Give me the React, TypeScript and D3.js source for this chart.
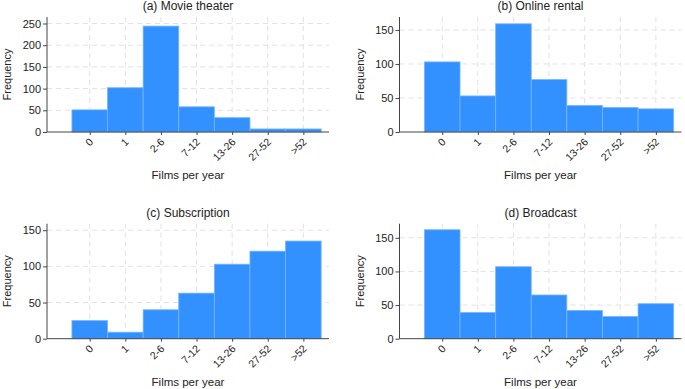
import React from "react";
import * as d3 from "d3";

// categories on the x axis
const categories = ["0", "1", "2-6", "7-12", "13-26", "27-52", ">52"];

// frequencies
const movieTheater = [51, 102, 244, 58, 33, 7, 7];
const onlineRental = [103, 53, 159, 77, 39, 36, 34];
const subscription = [25, 9, 40, 63, 103, 121, 135];
const broadcast = [162, 39, 107, 65, 42, 33, 52];

// y tick labels and axis tops per panel
const ticksA = [0, 50, 100, 150, 200, 250];
const ticksB = [0, 50, 100, 150];
const ticksC = [0, 50, 100, 150];
const ticksD = [0, 50, 100, 150];
const yMaxA = 265;
const yMaxB = 169;
const yMaxC = 159;
const yMaxD = 171;

const titles = ["(a) Movie theater", "(b) Online rental", "(c) Subscription", "(d) Broadcast"];

const FONT = "Liberation Sans, Arial, sans-serif";
const BAR = "#3391ff";
const AXIS = "#444";
const GRID = "#e2e2e2";

function Panel({ ox, oy, title, values, ticks, yMax }) {
  const ref = React.useRef(null);

  React.useEffect(() => {
    const g = d3.select(ref.current);
    g.selectAll("*").remove();

    const left = ox + 47;
    const right = ox + 329;
    const top = oy + 17;
    const bottom = oy + 132;

    const x = d3.scaleLinear().domain([-1.2, 6.72]).range([left, right]);
    const y = d3.scaleLinear().domain([0, yMax]).range([bottom, top]);
    const bw = x(1) - x(0);

    // grid
    g.selectAll(".hgrid")
      .data(ticks.filter((t) => t > 0))
      .enter()
      .append("line")
      .attr("x1", left)
      .attr("x2", right)
      .attr("y1", (d) => y(d))
      .attr("y2", (d) => y(d))
      .attr("stroke", GRID)
      .attr("stroke-dasharray", "5,4");
    g.selectAll(".vgrid")
      .data(categories)
      .enter()
      .append("line")
      .attr("x1", (d, i) => x(i))
      .attr("x2", (d, i) => x(i))
      .attr("y1", top)
      .attr("y2", bottom)
      .attr("stroke", GRID)
      .attr("stroke-dasharray", "5,4");

    // bars
    g.selectAll(".bar")
      .data(values)
      .enter()
      .append("rect")
      .attr("x", (d, i) => x(i) - bw / 2)
      .attr("width", bw)
      .attr("y", (d) => y(d))
      .attr("height", (d) => bottom - y(d))
      .attr("fill", BAR)
      .attr("stroke", "#74b6ff")
      .attr("stroke-width", 0.8);

    // y axis
    const ya = g
      .append("g")
      .attr("transform", `translate(${left},0)`)
      .call(d3.axisLeft(y).tickValues(ticks).tickSize(4).tickPadding(2));
    ya.select(".domain").attr("stroke", AXIS).attr("d", `M0,${top}V${bottom}`);
    ya.selectAll(".tick line").attr("stroke", AXIS);
    ya.selectAll("text")
      .attr("font-family", FONT)
      .attr("font-size", 11)
      .attr("fill", "#222");

    // x axis
    const xa = g
      .append("g")
      .attr("transform", `translate(0,${bottom})`)
      .call(
        d3
          .axisBottom(x)
          .tickValues(d3.range(categories.length))
          .tickFormat((i) => categories[i])
          .tickSize(3)
      );
    xa.select(".domain").attr("stroke", AXIS).attr("d", `M${left},0H${right}`);
    xa.selectAll(".tick line").attr("stroke", AXIS);
    xa.selectAll("text")
      .attr("font-family", FONT)
      .attr("font-size", 10.5)
      .attr("fill", "#222")
      .attr("text-anchor", "end")
      .attr("y", 0)
      .attr("dy", "0.35em")
      .attr("transform", "translate(1,8) rotate(-45)");

    // labels
    g.append("text")
      .attr("x", (left + right) / 2)
      .attr("y", oy + 10)
      .attr("text-anchor", "middle")
      .attr("font-family", FONT)
      .attr("font-size", 12)
      .attr("fill", "#222")
      .text(title);
    g.append("text")
      .attr("transform", `translate(${ox + 11},${(top + bottom) / 2}) rotate(-90)`)
      .attr("text-anchor", "middle")
      .attr("font-family", FONT)
      .attr("font-size", 11)
      .attr("fill", "#222")
      .text("Frequency");
    g.append("text")
      .attr("x", (left + right) / 2)
      .attr("y", oy + 179)
      .attr("text-anchor", "middle")
      .attr("font-family", FONT)
      .attr("font-size", 11.5)
      .attr("fill", "#222")
      .text("Films per year");
  });

  return <g ref={ref} />;
}

export default function App() {
  return (
    <svg
      width={685}
      height={389}
      style={{ position: "absolute", left: 0, top: 0, background: "#fff" }}
    >
      <Panel ox={0} oy={0} title={titles[0]} values={movieTheater} ticks={ticksA} yMax={yMaxA} />
      <Panel ox={352.5} oy={0} title={titles[1]} values={onlineRental} ticks={ticksB} yMax={yMaxB} />
      <Panel ox={0} oy={206.7} title={titles[2]} values={subscription} ticks={ticksC} yMax={yMaxC} />
      <Panel ox={352.5} oy={206.7} title={titles[3]} values={broadcast} ticks={ticksD} yMax={yMaxD} />
    </svg>
  );
}
